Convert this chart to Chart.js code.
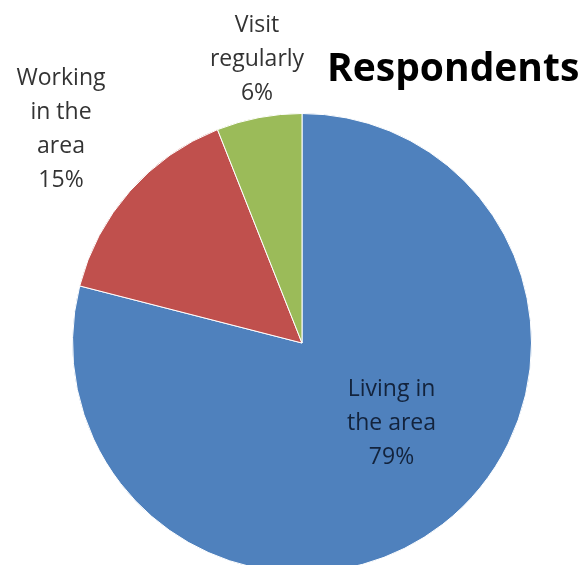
<!DOCTYPE html>
<html>
<head>
<meta charset="utf-8">
<title>Respondents</title>
<script src="https://cdn.jsdelivr.net/npm/chart.js@4.4.0/dist/chart.umd.min.js"></script>
<style>
    html, body {
        margin: 0;
        padding: 0;
        background: #fff;
        overflow: hidden;
    }
    #wrap {
        width: 585px;
        height: 565px;
        overflow: hidden;
    }
</style>
</head>
<body>
<div id="wrap">
    <canvas id="respondents-chart" width="585" height="600"></canvas>
</div>
<script>
// Chart data
const chartTitle = 'Respondents';
const categories = [['Living in', 'the area'], ['Working', 'in the', 'area'], ['Visit', 'regularly']];
const shares = [79, 15, 6];
const sliceColors = ['#4F81BD', '#C0504D', '#9BBB59'];

// where each label sits, relative to the pie centre, in units of the radius
const labelOffsets = [
    { dx: 0.39, dy: 0.35, color: '#13233c' },
    { dx: -1.05, dy: -0.93, color: '#333333' },
    { dx: -0.196, dy: -1.235, color: '#333333' }
];

const pieLabels = {
    id: 'pieLabels',
    afterDatasetsDraw(chart) {
        const ctx = chart.ctx;
        const arcs = chart.getDatasetMeta(0).data;
        ctx.save();
        ctx.textAlign = 'center';
        ctx.textBaseline = 'middle';
        ctx.font = '23px "Open Sans", "Liberation Sans", sans-serif';

        arcs.forEach((arc, i) => {
            const r = arc.outerRadius;
            const cx = arc.x + labelOffsets[i].dx * r;
            const cy = arc.y + labelOffsets[i].dy * r;
            const lines = categories[i].concat([shares[i] + '%']);
            const lineH = 34;
            const top = cy - (lines.length - 1) * lineH / 2;
            ctx.fillStyle = labelOffsets[i].color;
            lines.forEach((line, j) => {
                ctx.fillText(line, cx, top + j * lineH);
            });
        });

        // title, top right
        ctx.textAlign = 'left';
        ctx.textBaseline = 'alphabetic';
        ctx.fillStyle = '#000';
        ctx.font = 'bold 39px "Open Sans", "Liberation Sans", sans-serif';
        ctx.fillText(chartTitle, 327, 81);
        ctx.restore();
    }
};

new Chart(document.getElementById('respondents-chart'), {
    type: 'pie',
    data: {
        labels: categories.map(c => c.join(' ')),
        datasets: [{
            data: shares,
            backgroundColor: sliceColors,
            borderColor: '#ffffff',
            borderWidth: 1
        }]
    },
    options: {
        responsive: false,
        animation: false,
        layout: {
            padding: { left: 72, right: 53, top: 113, bottom: 27 }
        },
        plugins: {
            legend: { display: false },
            tooltip: { enabled: false },
            title: { display: false }
        }
    },
    plugins: [pieLabels]
});
</script>
</body>
</html>
